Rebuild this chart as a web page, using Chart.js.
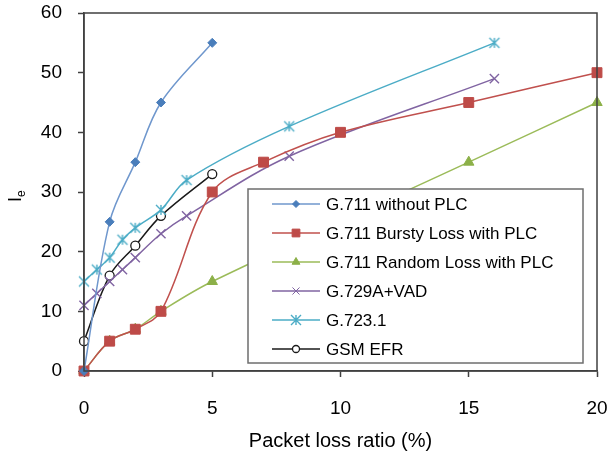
<!DOCTYPE html>
<html>
<head>
<meta charset="utf-8">
<script src="https://cdn.jsdelivr.net/npm/chart.js@4/dist/chart.umd.min.js"></script>
<style>
  html, body { margin: 0; padding: 0; background: #fff; }
  #wrap { width: 609px; height: 461px; position: relative; }
</style>
</head>
<body>
<div id="wrap"><canvas id="c" width="609" height="461"></canvas></div>
<script>
// Packet loss ratio (%) and impairment factor Ie per codec
const g711NoPlcX = [0, 1, 2, 3, 5];
const g711NoPlcY = [0, 25, 35, 45, 55];

const g711BurstyX = [0, 1, 2, 3, 5, 7, 10, 15, 20];
const g711BurstyY = [0, 5, 7, 10, 30, 35, 40, 45, 50];

const g711RandomX = [0, 1, 2, 3, 5, 15, 20];
const g711RandomY = [0, 5, 7, 10, 15, 35, 45];

const g729X = [0, 0.5, 1, 1.5, 2, 3, 4, 8, 16];
const g729Y = [11, 13, 15, 17, 19, 23, 26, 36, 49];

const g7231X = [0, 0.5, 1, 1.5, 2, 3, 4, 8, 16];
const g7231Y = [15, 17, 19, 22, 24, 27, 32, 41, 55];

const gsmEfrX = [0, 1, 2, 3, 5];
const gsmEfrY = [5, 16, 21, 26, 33];

const seriesNames = [
  'G.711 without PLC',
  'G.711 Bursty Loss with PLC',
  'G.711 Random Loss with PLC',
  'G.729A+VAD',
  'G.723.1',
  'GSM EFR'
];

const xTicks = [0, 5, 10, 15, 20];
const yTicks = [0, 10, 20, 30, 40, 50, 60];

const FONT = "'Liberation Sans', Arial, sans-serif";

function pts(xs, ys) { return xs.map((x, i) => ({ x: x, y: ys[i] })); }

// asterisk marker: diagonal cross plus a vertical bar
function asterisk(color, r) {
  const s = r * 2 + 4;
  const cv = document.createElement('canvas');
  cv.width = s; cv.height = s;
  const g = cv.getContext('2d');
  const c = s / 2;
  g.strokeStyle = color; g.lineWidth = 1.4;
  g.beginPath();
  g.moveTo(c - r, c - r); g.lineTo(c + r, c + r);
  g.moveTo(c + r, c - r); g.lineTo(c - r, c + r);
  g.moveTo(c, c - r); g.lineTo(c, c + r);
  g.stroke();
  return cv;
}

const styles = [
  { line: '#6f97cd', fill: '#4a7ebb', stroke: '#4a7ebb', point: 'rectRot', r: 4.5, lr: 3.5 },
  { line: '#c0504d', fill: '#be4b48', stroke: '#be4b48', point: 'rect', r: 7, lr: 5.5 },
  { line: '#9bbb59', fill: '#8cb048', stroke: '#8cb048', point: 'triangle', r: 6, lr: 4.5 },
  { line: '#8064a2', fill: '#8064a2', stroke: '#8064a2', point: 'crossRot', r: 6.5, lr: 5 },
  { line: '#4bacc6', fill: '#4bacc6', stroke: '#4bacc6', point: asterisk('#4bacc6', 5), r: 6, lr: 6 },
  { line: '#1a1a1a', fill: '#ffffff', stroke: '#1a1a1a', point: 'circle', r: 4.5, lr: 3.5 }
];

const seriesData = [
  pts(g711NoPlcX, g711NoPlcY),
  pts(g711BurstyX, g711BurstyY),
  pts(g711RandomX, g711RandomY),
  pts(g729X, g729Y),
  pts(g7231X, g7231Y),
  pts(gsmEfrX, gsmEfrY)
];

const datasets = seriesData.map((d, i) => ({
  label: seriesNames[i],
  data: d,
  borderColor: styles[i].line,
  borderWidth: 1.5,
  tension: 0.35,
  pointStyle: styles[i].point,
  pointRadius: styles[i].r,
  pointBackgroundColor: styles[i].fill,
  pointBorderColor: styles[i].stroke,
  pointBorderWidth: i === 5 ? 1.3 : (i === 3 ? 1.4 : 1),
  clip: false,
  fill: false
}));

// frame, axis titles and the boxed legend inside the plot
const decor = {
  id: 'decor',
  afterDraw(chart) {
    const ctx = chart.ctx;
    const a = chart.chartArea;
    ctx.save();
    ctx.strokeStyle = '#404040';
    ctx.lineWidth = 1.5;
    ctx.strokeRect(a.left, a.top, a.right - a.left, a.bottom - a.top);

    // x title
    ctx.fillStyle = '#000';
    ctx.font = '20px ' + FONT;
    ctx.textAlign = 'center';
    ctx.textBaseline = 'middle';
    ctx.fillText('Packet loss ratio (%)', (a.left + a.right) / 2, 441);

    // y title: I with subscript e
    ctx.save();
    ctx.translate(16, (a.top + a.bottom) / 2 + 6);
    ctx.rotate(-Math.PI / 2);
    ctx.textAlign = 'left';
    ctx.textBaseline = 'alphabetic';
    ctx.font = '18px ' + FONT;
    ctx.fillText('I', -4, 5);
    ctx.font = '12px ' + FONT;
    ctx.fillText('e', 1, 9);
    ctx.restore();

    // legend
    const lx = a.left + 164, ly = a.top + 176, lw = 335, lh = 174;
    ctx.fillStyle = '#fff';
    ctx.fillRect(lx, ly, lw, lh);
    ctx.strokeStyle = '#6e6e6e';
    ctx.lineWidth = 1.5;
    ctx.strokeRect(lx, ly, lw, lh);
    ctx.font = '17px ' + FONT;
    ctx.textAlign = 'left';
    ctx.textBaseline = 'middle';
    chart.data.datasets.forEach((ds, i) => {
      const y = ly + 15 + i * 29;
      const x0 = lx + 24, x1 = lx + 72;
      ctx.strokeStyle = ds.borderColor;
      ctx.lineWidth = 1.5;
      ctx.beginPath(); ctx.moveTo(x0, y); ctx.lineTo(x1, y); ctx.stroke();
      const st = styles[i];
      ctx.fillStyle = st.fill;
      ctx.strokeStyle = st.stroke;
      ctx.lineWidth = i === 5 ? 1.3 : 1;
      Chart.helpers.drawPoint(ctx, { pointStyle: st.point, radius: st.lr, rotation: 0, borderWidth: ctx.lineWidth }, (x0 + x1) / 2, y);
      ctx.fillStyle = '#000';
      ctx.fillText(ds.label, lx + 78, y + 1);
    });
    ctx.restore();
  }
};

new Chart(document.getElementById('c'), {
  type: 'line',
  data: { datasets: datasets },
  options: {
    responsive: false,
    animation: false,
    layout: { padding: { left: 0, top: 13, right: 12, bottom: 0 } },
    plugins: { legend: { display: false }, tooltip: { enabled: false } },
    scales: {
      x: {
        type: 'linear',
        min: 0, max: 20,
        afterFit(s) { s.height = 90; s.paddingLeft = 0; s.paddingRight = 0; },
        afterBuildTicks(s) { s.ticks = xTicks.map(v => ({ value: v })); },
        border: { display: true, color: '#404040', width: 1.5 },
        grid: { display: true, drawOnChartArea: false, drawTicks: true, tickLength: 6, tickColor: '#404040', tickWidth: 1.5 },
        ticks: { color: '#000', font: { family: FONT, size: 19 }, padding: 20, maxRotation: 0 }
      },
      y: {
        type: 'linear',
        min: 0, max: 60,
        afterFit(s) { s.width = 84; s.paddingTop = 0; s.paddingBottom = 0; },
        afterBuildTicks(s) { s.ticks = yTicks.map(v => ({ value: v })); },
        border: { display: true, color: '#404040', width: 1.5 },
        grid: { display: true, drawOnChartArea: false, drawTicks: true, tickLength: 6, tickColor: '#404040', tickWidth: 1.5 },
        ticks: { color: '#000', font: { family: FONT, size: 19 }, padding: 16 }
      }
    }
  },
  plugins: [decor]
});
</script>
</body>
</html>
